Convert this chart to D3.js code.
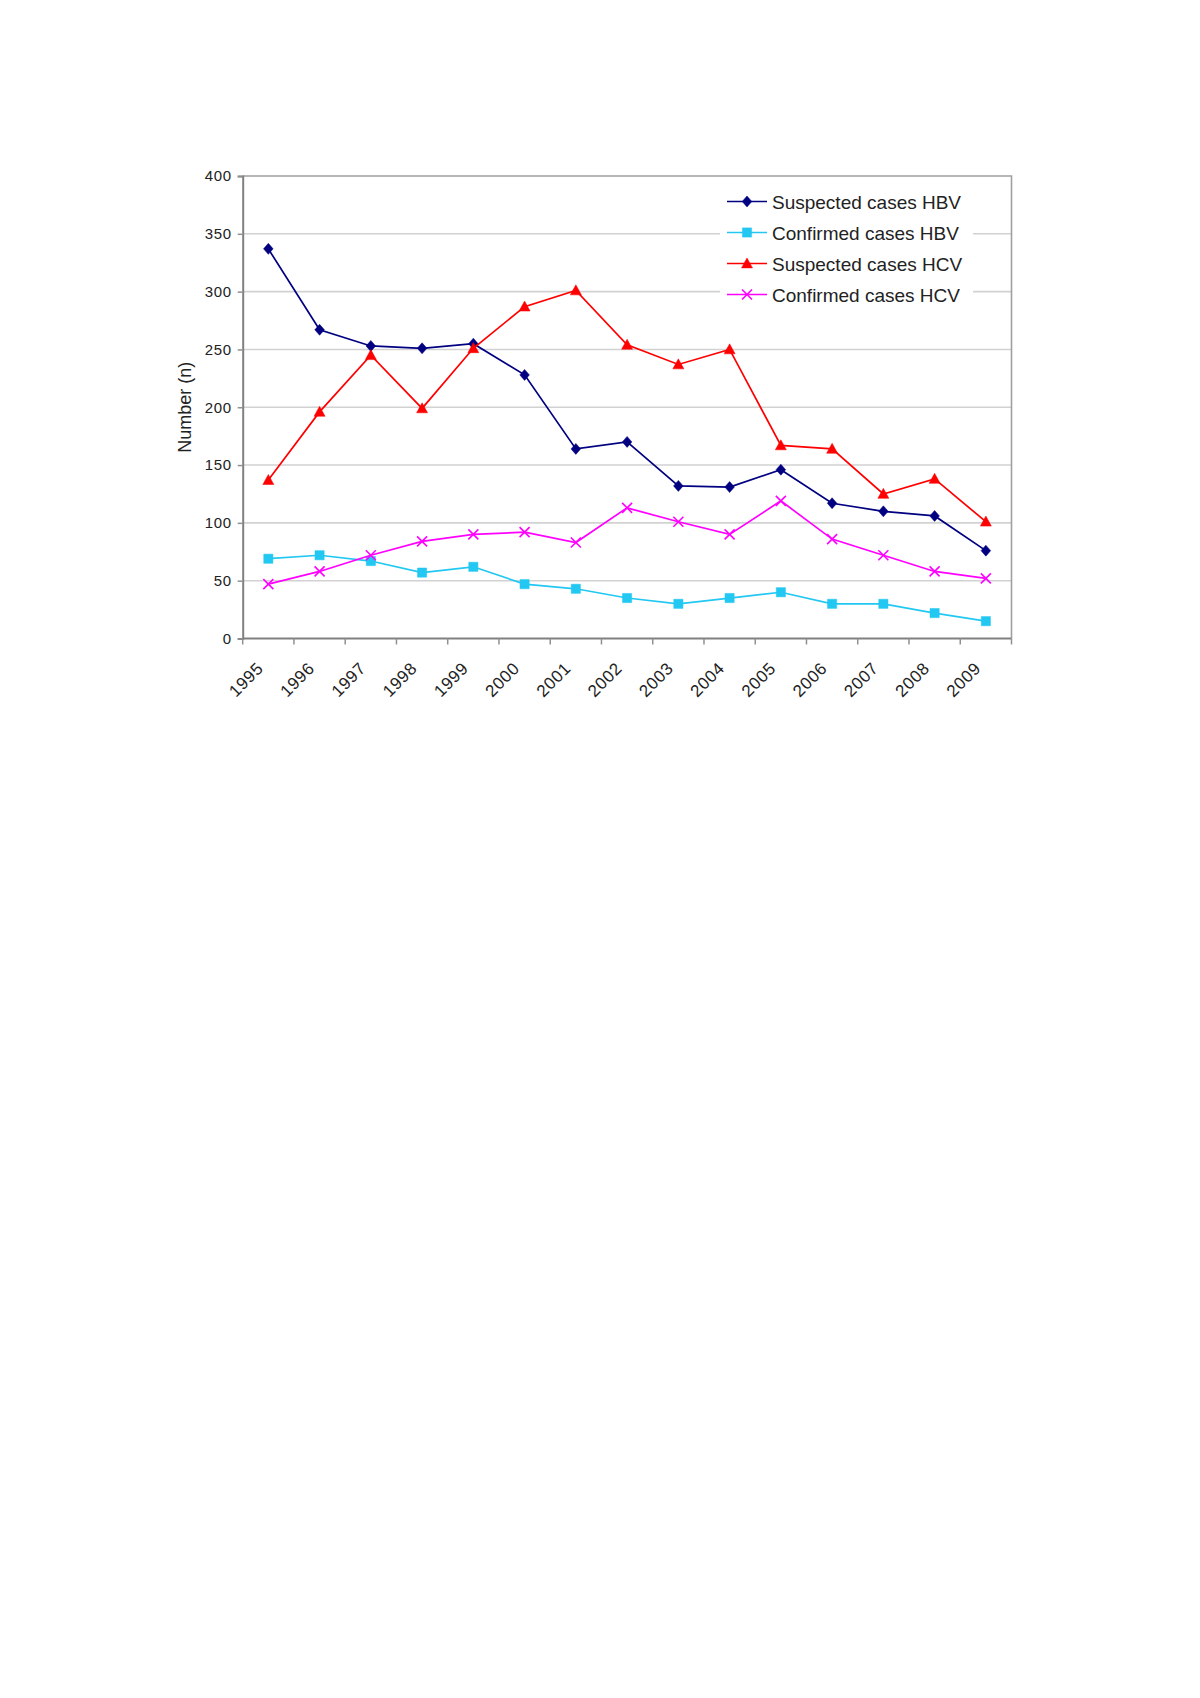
<!DOCTYPE html>
<html>
<head>
<meta charset="utf-8">
<script src="https://cdnjs.cloudflare.com/ajax/libs/d3/7.8.5/d3.min.js"></script>
<style>
  body { margin: 0; background: #fff; }
  text { font-family: "Liberation Sans", Arial, sans-serif; fill: #222; }
</style>
</head>
<body>
<script>
// chart data
var years = ['1995', '1996', '1997', '1998', '1999', '2000', '2001', '2002',
             '2003', '2004', '2005', '2006', '2007', '2008', '2009'];

var suspectedHBV = [337, 267, 253, 251, 255, 228, 164, 170, 132, 131, 146, 117, 110, 106, 76];
var confirmedHBV = [69, 72, 67, 57, 62, 47, 43, 35, 30, 35, 40, 30, 30, 22, 15];
var suspectedHCV = [137, 196, 245, 199, 251, 287, 301, 254, 237, 250, 167, 164, 125, 138, 101];
var confirmedHCV = [47, 58, 72, 84, 90, 92, 83, 113, 101, 90, 119, 86, 72, 58, 52];

var yTicks = [0, 50, 100, 150, 200, 250, 300, 350, 400];
var seriesNames = ['Suspected cases HBV', 'Confirmed cases HBV', 'Suspected cases HCV', 'Confirmed cases HCV'];

(function (d3) {
	'use strict';

	var width = 1200,
	    height = 1698,
	    plotLeft = 242.7,
	    plotRight = 1011.5,
	    plotTop = 176,
	    plotBottom = 638.5;

	var svg = d3.select('body')
	    .append('svg')
	    .attr('width', width)
	    .attr('height', height);

	svg.append('rect')
	    .attr('width', width)
	    .attr('height', height)
	    .attr('fill', '#fff');

	var x = d3.scaleBand()
	    .domain(years)
	    .range([plotLeft, plotRight])
	    .padding(0);

	var y = d3.scaleLinear()
	    .domain([0, 400])
	    .range([plotBottom, plotTop]);

	function cx(d, i) { return x(years[i]) + x.bandwidth() / 2; }

	// custom marker shapes
	var diamond = { draw: function (c) { c.moveTo(0, -5.5); c.lineTo(4.8, 0); c.lineTo(0, 5.5); c.lineTo(-4.8, 0); c.closePath(); } };
	var square = { draw: function (c) { c.rect(-4.6, -4.6, 9.2, 9.2); } };
	var triangle = { draw: function (c) { c.moveTo(0, -5.6); c.lineTo(5.5, 4.4); c.lineTo(-5.5, 4.4); c.closePath(); } };
	var cross = { draw: function (c) { c.moveTo(-5, -5); c.lineTo(5, 5); c.moveTo(5, -5); c.lineTo(-5, 5); } };

	var series = [
	    { name: seriesNames[0], values: suspectedHBV, color: '#000080', shape: diamond, filled: true },
	    { name: seriesNames[1], values: confirmedHBV, color: '#22c8f2', shape: square, filled: true },
	    { name: seriesNames[2], values: suspectedHCV, color: '#ff0000', shape: triangle, filled: true },
	    { name: seriesNames[3], values: confirmedHCV, color: '#ff00ff', shape: cross, filled: false }
	];

	// gridlines
	svg.append('g').selectAll('line.grid')
	    .data(yTicks.filter(function (t) { return t > 0 && t < 400; }))
	    .enter()
	    .append('line')
	    .attr('class', 'grid')
	    .attr('x1', plotLeft)
	    .attr('x2', plotRight)
	    .attr('y1', function (d) { return y(d); })
	    .attr('y2', function (d) { return y(d); })
	    .attr('stroke', '#d2d2d2')
	    .attr('stroke-width', 1.6);

	// plot frame (top and right)
	svg.append('path')
	    .attr('d', 'M' + plotLeft + ',' + plotTop + 'H' + plotRight + 'V' + plotBottom)
	    .attr('fill', 'none')
	    .attr('stroke', '#a0a0a0')
	    .attr('stroke-width', 1.6);

	// y axis
	var yAxis = d3.axisLeft(y)
	    .tickValues(yTicks)
	    .tickSize(5)
	    .tickPadding(6);

	var gy = svg.append('g')
	    .attr('transform', 'translate(' + plotLeft + ',0)')
	    .call(yAxis);
	gy.select('.domain').attr('stroke', '#808080').attr('stroke-width', 2);
	gy.selectAll('.tick line').attr('stroke', '#909090').attr('stroke-width', 1.5);
	gy.selectAll('.tick text')
	    .style('font-size', '15px')
	    .style('letter-spacing', '0.6px')
	    .style('font-family', '"Liberation Sans", Arial, sans-serif')
	    .attr('fill', '#222');

	// x axis: ticks on category borders, labels rotated
	svg.append('line')
	    .attr('x1', plotLeft).attr('x2', plotRight)
	    .attr('y1', plotBottom).attr('y2', plotBottom)
	    .attr('stroke', '#808080')
	    .attr('stroke-width', 2);

	svg.append('g').selectAll('line.xtick')
	    .data(d3.range(years.length + 1))
	    .enter()
	    .append('line')
	    .attr('x1', function (i) { return plotLeft + i * x.bandwidth(); })
	    .attr('x2', function (i) { return plotLeft + i * x.bandwidth(); })
	    .attr('y1', plotBottom)
	    .attr('y2', plotBottom + 6)
	    .attr('stroke', '#909090')
	    .attr('stroke-width', 1.5);

	svg.append('g').selectAll('text.xlabel')
	    .data(years)
	    .enter()
	    .append('text')
	    .attr('class', 'xlabel')
	    .attr('transform', function (d) {
	        return 'translate(' + (x(d) + x.bandwidth() / 2 - 4) + ',' + (plotBottom + 31) + ') rotate(-45)';
	    })
	    .attr('text-anchor', 'end')
	    .style('font-size', '17px')
	    .style('letter-spacing', '0.6px')
	    .text(function (d) { return d; });

	// y title
	svg.append('text')
	    .attr('transform', 'translate(191,' + ((plotTop + plotBottom) / 2) + ') rotate(-90)')
	    .attr('text-anchor', 'middle')
	    .style('font-size', '18px')
	    .text('Number (n)');

	// lines and markers
	var line = d3.line()
	    .x(cx)
	    .y(function (d) { return y(d); });

	series.forEach(function (s) {
	    svg.append('path')
	        .datum(s.values)
	        .attr('d', line)
	        .attr('fill', 'none')
	        .attr('stroke', s.color)
	        .attr('stroke-width', 1.7);

	    svg.append('g').selectAll('path.marker')
	        .data(s.values)
	        .enter()
	        .append('path')
	        .attr('d', d3.symbol().type(s.shape))
	        .attr('transform', function (d, i) { return 'translate(' + cx(d, i) + ',' + y(d) + ')'; })
	        .attr('fill', s.filled ? s.color : 'none')
	        .attr('stroke', s.color)
	        .attr('stroke-width', s.filled ? 0.5 : 1.6);
	});

	// legend
	var legend = svg.append('g');
	legend.append('rect')
	    .attr('x', 720)
	    .attr('y', 184)
	    .attr('width', 253)
	    .attr('height', 124)
	    .attr('fill', '#fff');

	var rows = legend.selectAll('g.row')
	    .data(series)
	    .enter()
	    .append('g')
	    .attr('transform', function (d, i) { return 'translate(0,' + (201.5 + i * 31) + ')'; });

	rows.append('line')
	    .attr('x1', 727).attr('x2', 767)
	    .attr('y1', 0).attr('y2', 0)
	    .attr('stroke', function (d) { return d.color; })
	    .attr('stroke-width', 1.7);

	rows.append('path')
	    .attr('d', function (d) { return d3.symbol().type(d.shape)(); })
	    .attr('transform', 'translate(747,0)')
	    .attr('fill', function (d) { return d.filled ? d.color : 'none'; })
	    .attr('stroke', function (d) { return d.color; })
	    .attr('stroke-width', function (d) { return d.filled ? 0.5 : 1.6; });

	rows.append('text')
	    .attr('x', 772)
	    .attr('y', 7)
	    .style('font-size', '19px')
	    .text(function (d) { return d.name; });
})(d3);
</script>
</body>
</html>
